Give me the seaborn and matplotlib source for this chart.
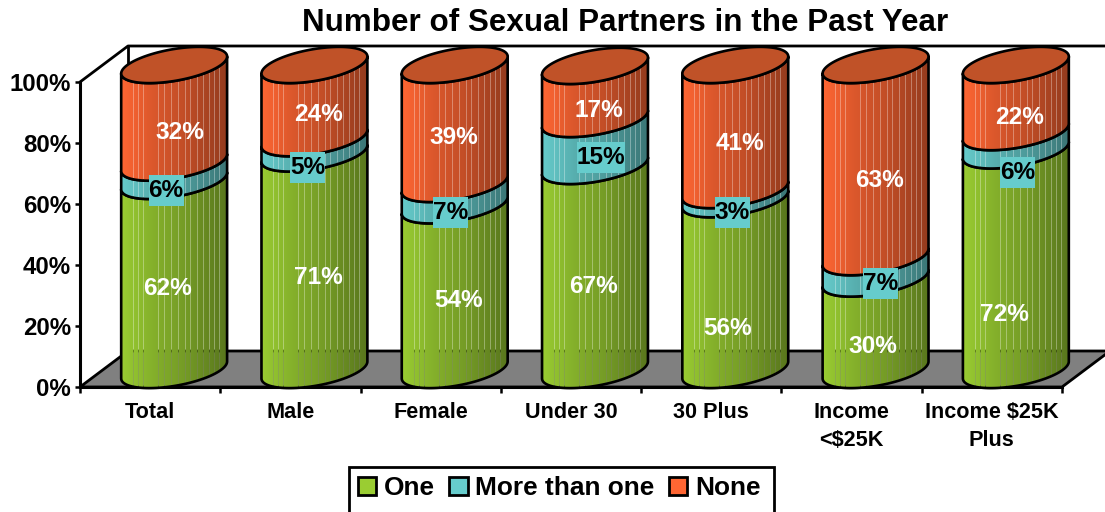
#!/usr/bin/env python3
"""
Stacked 3D-look cylinder chart: number of sexual partners in the past year
"""

import numpy as np
import matplotlib
matplotlib.use('Agg')
import matplotlib.pyplot as plt
from matplotlib.patches import Patch, Polygon, Rectangle
from matplotlib.colors import to_rgb
import seaborn as sns

categories = ['Total', 'Male', 'Female', 'Under 30', '30 Plus', 'Income\n<$25K', 'Income $25K\nPlus']
one = [62, 71, 54, 66.9, 56, 30, 72]
more_than_one = [6, 5, 7, 15.4, 3, 7, 6]
none = [32, 24, 39, 17.4, 41, 63, 22]

series_names = ['One', 'More than one', 'None']
series_values = [one, more_than_one, none]
series_colors = ['#9ACD32', '#66CCCC', '#FF6633']
label_colors = ['white', 'black', 'white']

# label nudges from the middle of each front face, in pixels (right, down)
nudge_x = [[-7, 4, 4, -1, -8, -3, -11], [-8, -7, -4, 6, -3, 5, 2], [6, 4, -1, 4, 5, 4, 4]]
nudge_y = [[13, 16, 13, 19, 44, 22, 54], [19, 22, 18, 15, 18, 16, 31], [19, 13, 13, 18, 16, 19, 19]]

# facet gaps of the cylinder, as a fraction of its width
streaks = [0.12, 0.165, 0.21, 0.355, 0.41, 0.475, 0.545, 0.605, 0.66, 0.72, 0.78, 0.835, 0.885, 0.925]

W, H = 1105, 512
AX_L, AX_R, AX_T, AX_B = 80, 1062, 82, 387
PX_X = (AX_R - AX_L) / 7.0   # pixels per category
PX_Y = (AX_B - AX_T) / 100.0  # pixels per percent

sns.set_theme(style='white')
plt.rcParams['font.family'] = ['Liberation Sans', 'DejaVu Sans']
plt.rcParams['text.color'] = 'black'


def shade_image(color):
    """One row RGBA image, bright on the left, dark on the right, with see-through gaps"""
    n = 212
    t = np.linspace(0, 1, n)
    mult = np.interp(t, [0, 0.08, 0.3, 0.6, 1], [1.0, 0.96, 0.86, 0.76, 0.58])
    img = np.ones((1, n, 4))
    img[0, :, :3] = np.outer(mult, to_rgb(color))
    for s in streaks:
        i = int(s * n)
        img[0, i:i + 2, 3] = 0.68
    return img


def front_arc(cx, cy, half_w, rise, minor, left_to_right=True):
    t = np.linspace(np.pi, 2 * np.pi, 60)
    if not left_to_right:
        t = t[::-1]
    return np.column_stack([cx + half_w * np.cos(t), cy + rise * np.cos(t) + minor * np.sin(t)])


def draw_walls(ax, depth_x, depth_y):
    x0, x1 = -0.5, 6.5
    ax.fill([x0, x0 + depth_x, x1 + depth_x, x1], [0, depth_y, depth_y, 0],
            facecolor='#808080', edgecolor='black', linewidth=2.0, clip_on=False, zorder=1)
    ax.plot([x0, x0 + depth_x, x1 + depth_x], [100, 100 + depth_y, 100 + depth_y],
            color='black', linewidth=2.0, clip_on=False, zorder=1)
    ax.plot([x0 + depth_x, x0 + depth_x], [depth_y, 100 + depth_y],
            color='black', linewidth=2.0, clip_on=False, zorder=1)


def draw_cylinders(fig, ax, containers):
    shift_x, shift_y = 24 / PX_X, 17 / PX_Y
    rise, minor = 8.5 / PX_Y, 16 / PX_Y
    renderer = fig.canvas.get_renderer()
    z = 5
    for i in range(len(categories)):
        base = 0
        for s, color in enumerate(series_colors):
            bar = containers[s][i]
            cx = bar.get_x() + bar.get_width() / 2 + shift_x
            half_w = bar.get_width() / 2
            top = bar.get_height()
            lower = front_arc(cx, base + shift_y, half_w, rise, minor, True)
            upper = front_arc(cx, top + shift_y, half_w, rise, minor, False)
            outline = Polygon(np.vstack([lower, upper]), closed=True, fill=False, edgecolor='black',
                              linewidth=1.9, joinstyle='round', clip_on=False, zorder=z + 1)
            ax.add_patch(outline)
            im = ax.imshow(shade_image(color), extent=(cx - half_w, cx + half_w, 0, 120), aspect='auto',
                           interpolation='nearest', zorder=z)
            im.set_clip_box(fig.bbox)
            im.set_clip_path(outline)
            z += 2

            mid = (base + top) / 2 + shift_y
            value = series_values[s][i]
            label = ax.annotate(f'{round(value)}%', xy=(cx, mid), xycoords='data',
                                xytext=(nudge_x[s][i] * 0.72, -nudge_y[s][i] * 0.72), textcoords='offset points',
                                ha='center', va='center', fontsize=17.6, fontweight='bold',
                                color=label_colors[s], zorder=100 + s, annotation_clip=False)
            if s == 1:
                # flat label box, as tall as the original whatever the text is
                box_w = label.get_window_extent(renderer).width / PX_X
                box_h = 31 / PX_Y
                ax.add_patch(Rectangle((cx + nudge_x[s][i] / PX_X - box_w / 2, mid - nudge_y[s][i] / PX_Y - box_h / 2),
                                       box_w, box_h, facecolor=color, edgecolor='none', clip_on=False, zorder=90))
            base = top

        # lid of the cylinder
        t = np.linspace(0, 2 * np.pi, 120)
        lid = np.column_stack([cx + half_w * np.cos(t),
                               base + shift_y + rise * np.cos(t) + minor * np.sin(t)])
        ax.add_patch(Polygon(lid, closed=True, facecolor='#C05228', edgecolor='black',
                             linewidth=1.9, clip_on=False, zorder=z))
        z += 1


def main():
    fig = plt.figure(figsize=(W / 100, H / 100), dpi=100, facecolor='white')
    ax = fig.add_axes([AX_L / W, 1 - AX_B / H, (AX_R - AX_L) / W, (AX_B - AX_T) / H])

    # bars give the positions, the cylinders are drawn over them
    tops = np.cumsum(series_values, axis=0)
    containers = []
    for s, name in enumerate(series_names):
        sns.barplot(x=categories, y=tops[s], color=series_colors[s], width=0.755, ax=ax, zorder=2)
        containers.append(ax.containers[-1])
        for bar in ax.containers[-1]:
            bar.set_facecolor('none')
            bar.set_edgecolor('none')

    ax.set_xlim(-0.5, 6.5)
    ax.set_ylim(0, 100)
    draw_walls(ax, 48 / PX_X, 36 / PX_Y)
    draw_cylinders(fig, ax, containers)

    ax.set_xlim(-0.5, 6.5)
    ax.set_ylim(0, 100)
    ax.set_xlabel('')
    ax.set_ylabel('')

    for side in ['top', 'right']:
        ax.spines[side].set_visible(False)
    for side in ['left', 'bottom']:
        ax.spines[side].set_linewidth(2.2)
        ax.spines[side].set_color('black')
        ax.spines[side].set_zorder(3)

    ax.set_yticks(range(0, 101, 20))
    ax.set_yticklabels([f'{v}%' for v in range(0, 101, 20)], fontsize=17.3, fontweight='bold', color='black')
    ax.tick_params(axis='y', left=True, length=3.5, width=1.8, color='black', pad=3)
    ax.set_xticks(range(len(categories)))
    ax.set_xticklabels(categories, fontsize=15.6, fontweight='bold', color='black', linespacing=1.43)
    ax.tick_params(axis='x', which='major', bottom=False, length=0, pad=11)
    ax.set_xticks(np.arange(-0.5, 7), minor=True)
    ax.tick_params(axis='x', which='minor', bottom=True, length=4.5, width=1.8, color='black')

    fig.text(625 / W, 1 - 23 / H, 'Number of Sexual Partners in the Past Year', ha='center', va='center',
             fontsize=22.6, fontweight='bold', color='black')

    # legend box runs off the bottom of the picture in the original
    fig.add_artist(Rectangle((349 / W, -0.02), (774 - 349) / W, (1 - 467 / H) + 0.02, transform=fig.transFigure,
                             facecolor='white', edgecolor='black', linewidth=2.0))
    handles = [Patch(facecolor=c, edgecolor='black', linewidth=2.0, label=n)
               for c, n in zip(series_colors, series_names)]
    fig.legend(handles=handles, loc='center left', bbox_to_anchor=(358 / W, 1 - 488 / H), ncol=3, frameon=False,
               handlelength=0.7, handleheight=0.7, handletextpad=0.28, columnspacing=0.56,
               borderpad=0, borderaxespad=0, labelcolor='black', prop={'weight': 'bold', 'size': 18.9})

    fig.savefig('out.png', dpi=100, facecolor='white')


if __name__ == '__main__':
    main()
